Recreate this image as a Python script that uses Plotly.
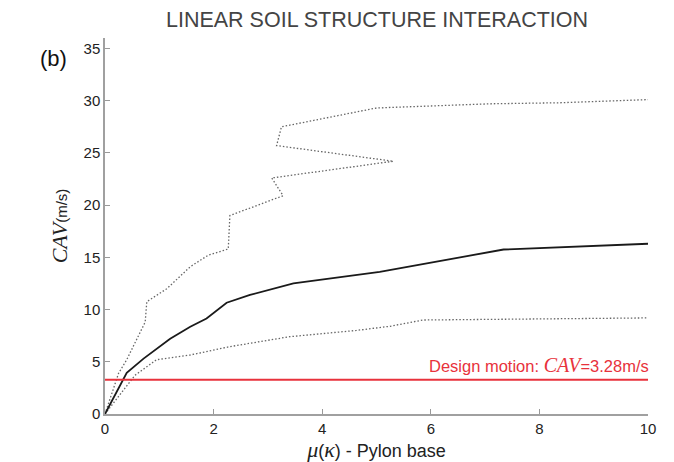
import plotly.graph_objects as go

# Upper bound (dotted)
upper_x = [0, 0.25, 0.40, 0.74, 0.77, 1.14, 1.57, 1.90, 2.27, 2.30, 3.28, 3.07, 5.31, 3.16, 3.25, 5.00, 7.09, 8.38, 10.0]
upper_y = [0, 3.9, 5.2, 8.8, 10.75, 12.0, 14.1, 15.2, 15.8, 19.0, 20.9, 22.6, 24.2, 25.7, 27.5, 29.3, 29.7, 29.8, 30.1]

# Median (solid)
mid_x = [0, 0.40, 0.71, 1.20, 1.57, 1.87, 2.24, 2.67, 3.47, 5.06, 7.34, 10.0]
mid_y = [0, 3.95, 5.3, 7.2, 8.35, 9.15, 10.65, 11.4, 12.5, 13.6, 15.75, 16.3]

# Lower bound (dotted)
low_x = [0, 0.55, 0.95, 1.57, 2.30, 3.40, 4.63, 5.25, 5.86, 10.0]
low_y = [0, 3.7, 5.2, 5.65, 6.45, 7.4, 8.0, 8.4, 9.0, 9.2]

design_x = [0, 10]
design_cav = 3.28

x_ticks = [0, 2, 4, 6, 8, 10]
y_ticks = [0, 5, 10, 15, 20, 25, 30, 35]

sans = "Liberation Sans, Arial, sans-serif"
serif = "'Liberation Serif', 'DejaVu Serif', serif"

fig = go.Figure()
fig.add_trace(go.Scatter(x=upper_x, y=upper_y, mode="lines",
                         line=dict(color="#666666", width=1.3, dash="1.5px,2px"), showlegend=False))
fig.add_trace(go.Scatter(x=low_x, y=low_y, mode="lines",
                         line=dict(color="#666666", width=1.3, dash="1.5px,2px"), showlegend=False))
fig.add_trace(go.Scatter(x=mid_x, y=mid_y, mode="lines",
                         line=dict(color="#1a1a1a", width=1.8), showlegend=False))
fig.add_trace(go.Scatter(x=design_x, y=[design_cav, design_cav], mode="lines",
                         line=dict(color="#e8323c", width=1.8), showlegend=False))

fig.add_annotation(
    x=10, y=design_cav, xref="x", yref="y", xanchor="right", yanchor="bottom", yshift=2, xshift=3,
    text=f"Design motion: <span style=\"font-family:{serif}; font-style:italic; font-size:20px\">CAV</span>={design_cav}m/s",
    showarrow=False, font=dict(color="#e8323c", size=16.5, family=sans))

fig.add_annotation(
    xref="x domain", yref="y domain", x=(38 - 105) / 543, y=(414 - 44) / 376,
    text="(b)", showarrow=False,
    font=dict(size=22, color="#111111", family=sans))

fig.update_layout(
    width=674, height=462,
    margin=dict(l=105, r=26, t=38, b=48),
    paper_bgcolor="white", plot_bgcolor="white",
    font=dict(family=sans, color="#222222", size=15),
    title=dict(text="LINEAR SOIL STRUCTURE INTERACTION", x=377 / 674, xanchor="center",
               y=1 - 19 / 462, yanchor="middle",
               font=dict(size=21.5, color="#444444")),
)
fig.update_xaxes(range=[0, 10], tickvals=x_ticks, ticks="inside", ticklen=5, tickcolor="#999999",
                 showline=True, linecolor="#a0a0a0", linewidth=1.5, showgrid=False, zeroline=False,
                 tickfont=dict(size=15, color="#222222"), automargin=False,
                 title=dict(text=f"<span style=\"font-family:{serif}; font-style:italic; font-size:22px\">μ</span>(<span style=\"font-family:{serif}; font-style:italic; font-size:22px\">κ</span>) - Pylon base",
                            standoff=10, font=dict(size=18, color="#222222")))
fig.update_yaxes(range=[0, 36], tickvals=y_ticks, ticks="inside", ticklen=5, tickcolor="#999999",
                 showline=True, linecolor="#a0a0a0", linewidth=1.5, showgrid=False, zeroline=False,
                 tickfont=dict(size=15, color="#222222"), automargin=False,
                 title=dict(text=f"<span style=\"font-family:{serif}; font-style:italic; font-size:22px\">CAV</span>(m/s)",
                            standoff=12, font=dict(size=15, color="#222222")))

fig.write_html("out.html", config={"displayModeBar": False},
               post_script="document.body.style.margin='0';document.body.style.overflow='hidden';")
